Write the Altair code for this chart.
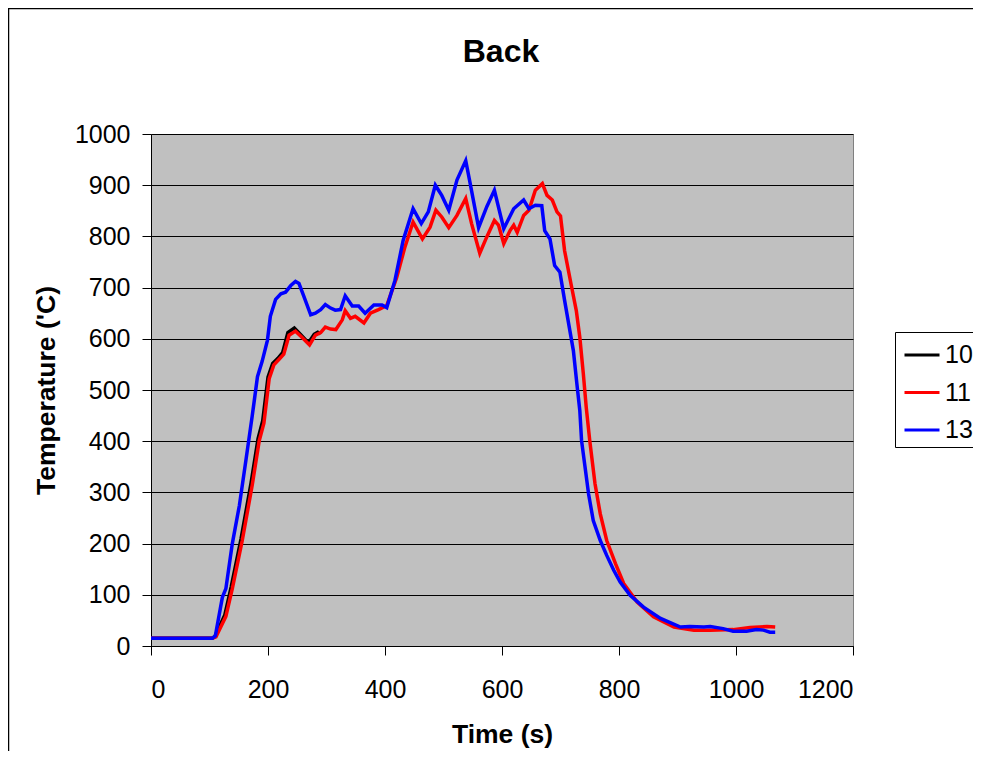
import altair as alt
import pandas as pd

# Series "10" (black)
t10 = [0, 50, 74, 104, 109, 126, 137, 154, 171, 183, 191, 200, 208, 217, 225, 234, 245, 256, 269, 279, 285, 290]
v10 = [15, 15, 15, 15, 18, 60, 115, 210, 318, 405, 440, 525, 552, 562, 573, 612, 621, 608, 592, 609, 613, 610]

# Series "11" (red)
t11 = [0, 50, 105, 111, 128, 139, 156, 173, 185, 193, 202, 210, 219, 227, 236, 247, 258, 271, 281, 290,
       298, 307, 316, 327, 332, 341, 349, 364, 375, 389, 403, 420, 434, 448, 464, 477, 487, 497, 509, 523,
       538, 548, 562, 574, 587, 594, 603, 614, 620, 626, 637, 646, 657, 669, 677, 686, 694, 700, 707, 718,
       727, 733, 739, 744, 750, 759, 768, 779, 794, 808, 831, 859, 894, 928, 956, 995, 1024, 1053, 1067]
v11 = [15, 15, 15, 18, 58, 112, 206, 314, 401, 435, 522, 549, 560, 570, 607, 615, 603, 588, 607, 612,
       623, 619, 618, 637, 655, 640, 644, 631, 650, 657, 665, 720, 779, 828, 795, 818, 851, 838, 817, 841,
       874, 825, 767, 799, 831, 822, 786, 812, 822, 808, 841, 851, 890, 903, 880, 871, 848, 840, 772, 707,
       655, 603, 532, 466, 401, 317, 258, 206, 161, 122, 86, 57, 37, 31, 31, 32, 36, 38, 37]

# Series "13" (blue)
t13 = [0, 50, 105, 110, 122, 128, 139, 151, 162, 173, 182, 190, 199, 204, 213, 222, 230, 239, 247, 253,
       261, 273, 281, 290, 298, 307, 315, 324, 332, 344, 355, 366, 381, 395, 403, 417, 431, 448, 462, 474,
       486, 497, 509, 523, 538, 545, 560, 574, 587, 603, 620, 637, 646, 657, 668, 673, 682, 690, 699, 707,
       716, 722, 728, 733, 736, 742, 748, 756, 768, 779, 791, 802, 819, 842, 871, 905, 921, 945, 956, 978,
       995, 1018, 1035, 1047, 1058, 1067]
v13 = [15, 15, 15, 20, 95, 112, 200, 274, 361, 449, 526, 556, 597, 644, 677, 688, 691, 704, 712, 708,
       684, 647, 650, 657, 667, 660, 656, 657, 684, 664, 664, 650, 666, 666, 661, 714, 792, 854, 825, 848,
       900, 880, 851, 910, 948, 907, 817, 858, 890, 815, 854, 871, 854, 861, 860, 811, 795, 743, 730, 675,
       616, 577, 512, 460, 401, 349, 297, 245, 206, 177, 148, 125, 99, 76, 54, 37, 38, 37, 38, 34,
       29, 29, 32, 31, 27, 27]

series_names = ["10", "11", "13"]
series_colors = ["#000000", "#FF0000", "#0000FF"]
x_ticks = [0, 200, 400, 600, 800, 1000, 1200]
y_ticks = [0, 100, 200, 300, 400, 500, 600, 700, 800, 900, 1000]
chart_title = "Back"

rows = []
for name, ts, vs in [("10", t10, v10), ("11", t11, v11), ("13", t13, v13)]:
    for i, (a, b) in enumerate(zip(ts, vs)):
        rows.append({"series": name, "time": a, "temp": b, "idx": i})
df = pd.DataFrame(rows)

FONT = "Liberation Sans"

lines = alt.Chart(df).mark_line(strokeWidth=3.5).encode(
    x=alt.X("time:Q",
            scale=alt.Scale(domain=[0, 1200], nice=False),
            axis=alt.Axis(title="Time (s)", values=x_ticks, grid=False, format="d",
                          labelFontSize=25, labelPadding=22, tickSize=9,
                          titleFontSize=26.5, titleFontWeight="bold", titlePadding=19)),
    y=alt.Y("temp:Q",
            scale=alt.Scale(domain=[0, 1000], nice=False),
            axis=alt.Axis(title="Temperature ('C)", values=y_ticks, grid=True, format="d",
                          labelFontSize=25, labelPadding=12, tickSize=9,
                          titleFontSize=26.5, titleFontWeight="bold", titlePadding=14)),
    color=alt.Color("series:N",
                    scale=alt.Scale(domain=series_names, range=series_colors),
                    legend=alt.Legend(title=None, orient="none", legendX=744, legendY=198,
                                      strokeColor="black", fillColor="white", padding=4,
                                      symbolType="stroke", symbolSize=1225, symbolStrokeWidth=3,
                                      symbolOffset=4, labelFontSize=25, labelOffset=4, rowPadding=5.5)),
    order="idx:Q",
)

border = alt.Chart(pd.DataFrame({"a": [0]})).mark_rect(fillOpacity=0, stroke="black", strokeWidth=1.5).encode(
    x=alt.value(-142.5), x2=alt.value(900), y=alt.value(-125.5), y2=alt.value(700)
)

title_mark = alt.Chart(pd.DataFrame({"label": [chart_title]})).mark_text(
    fontSize=32, fontWeight="bold", font=FONT, color="black", align="center", baseline="middle"
).encode(x=alt.value(350), y=alt.value(-82), text="label:N")

chart = alt.layer(border, lines, title_mark).properties(
    width=702, height=512,
    padding={"left": 143, "top": 126, "right": 120, "bottom": 105},
    autosize=alt.AutoSizeParams(type="none"),
    background="white",
).configure(font=FONT).configure_view(
    fill="#C0C0C0", stroke="#808080", strokeWidth=1
).configure_axis(
    labelColor="black", titleColor="black", labelFont=FONT, titleFont=FONT,
    domainColor="black", tickColor="black", gridColor="#000000", gridWidth=1, gridOpacity=1,
    domainWidth=1, tickWidth=1,
).configure_legend(labelFont=FONT, labelColor="black")

chart.save("out.html", embed_options={"renderer": "svg", "actions": False})
